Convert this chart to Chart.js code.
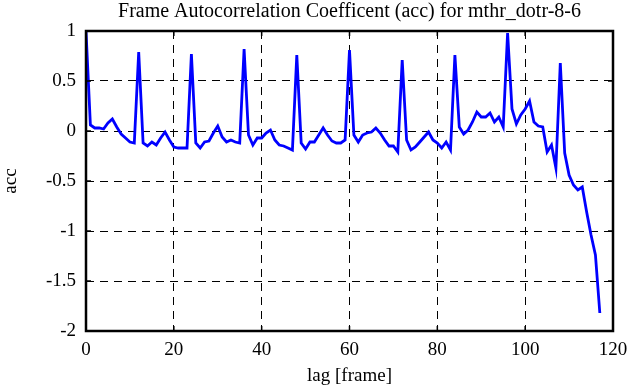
<!DOCTYPE html>
<html>
<head>
<meta charset="utf-8">
<script src="https://cdn.jsdelivr.net/npm/chart.js@4.4.1/dist/chart.umd.min.js"></script>
<style>
  html, body { margin: 0; padding: 0; background: #fff; }
  #wrap { width: 641px; height: 387px; }
</style>
</head>
<body>
<div id="wrap"><canvas id="chart" width="641" height="387"></canvas></div>
<script>
// acc values per lag (lag = index, 0..117)
const acc = [
  1.00, 0.06, 0.03, 0.03, 0.02, 0.08, 0.12, 0.04, -0.03, -0.07,
  -0.11, -0.12, 0.79, -0.12, -0.15, -0.11, -0.14, -0.07, -0.01, -0.09,
  -0.16, -0.17, -0.17, -0.17, 0.77, -0.12, -0.17, -0.11, -0.10, -0.02,
  0.05, -0.06, -0.11, -0.09, -0.11, -0.12, 0.82, -0.04, -0.14, -0.07,
  -0.07, -0.02, 0.01, -0.09, -0.14, -0.15, -0.17, -0.19, 0.76, -0.12,
  -0.18, -0.11, -0.11, -0.04, 0.03, -0.04, -0.10, -0.12, -0.12, -0.09,
  0.81, -0.04, -0.11, -0.04, -0.02, -0.01, 0.03, -0.02, -0.09, -0.15,
  -0.15, -0.21, 0.71, -0.09, -0.19, -0.16, -0.11, -0.06, -0.01, -0.09,
  -0.12, -0.17, -0.11, -0.19, 0.76, 0.04, -0.03, 0.01, 0.09, 0.19,
  0.14, 0.14, 0.18, 0.09, 0.14, 0.04, 0.98, 0.22, 0.07, 0.16,
  0.22, 0.30, 0.09, 0.05, 0.04, -0.21, -0.14, -0.37, 0.68, -0.22,
  -0.44, -0.54, -0.59, -0.56, -0.81, -1.04, -1.24, -1.82
];
const xTicks = [0, 20, 40, 60, 80, 100, 120];
const yTicks = [-2, -1.5, -1, -0.5, 0, 0.5, 1];
const titleText = 'Frame Autocorrelation Coefficent (acc) for mthr_dotr-8-6';

const serif = '"Liberation Serif", "DejaVu Serif", serif';

const points = acc.map((v, i) => ({ x: i, y: v }));

// frame, inward tick marks and a title centred over the plot box
const framePlugin = {
  id: 'frame',
  afterDraw(chart) {
    const { ctx, chartArea: a, scales } = chart;
    ctx.save();
    ctx.strokeStyle = '#000';
    ctx.lineWidth = 1.5;
    ctx.beginPath();
    xTicks.forEach(t => {
      const px = scales.x.getPixelForValue(t);
      ctx.moveTo(px, a.bottom); ctx.lineTo(px, a.bottom - 5);
      ctx.moveTo(px, a.top); ctx.lineTo(px, a.top + 5);
    });
    yTicks.forEach(t => {
      const py = scales.y.getPixelForValue(t);
      ctx.moveTo(a.left, py); ctx.lineTo(a.left + 5, py);
      ctx.moveTo(a.right, py); ctx.lineTo(a.right - 5, py);
    });
    ctx.stroke();
    ctx.lineWidth = 2.5;
    ctx.strokeRect(a.left, a.top, a.right - a.left, a.bottom - a.top);

    ctx.fillStyle = '#000';
    ctx.font = '20px ' + serif;
    ctx.textAlign = 'center';
    ctx.textBaseline = 'middle';
    ctx.fillText(titleText, (a.left + a.right) / 2, 12);
    ctx.restore();
  }
};

new Chart(document.getElementById('chart'), {
  type: 'line',
  data: {
    datasets: [{
      data: points,
      borderColor: '#0000ff',
      borderWidth: 2.8,
      pointRadius: 0,
      tension: 0,
      fill: false,
    }],
  },
  options: {
    responsive: false,
    animation: false,
    layout: { padding: { top: 31, right: 28, left: 0, bottom: 0 } },
    plugins: {
      legend: { display: false },
      tooltip: { enabled: false },
      title: { display: false },
    },
    scales: {
      x: {
        type: 'linear',
        min: 0,
        max: 120,
        afterBuildTicks(scale) { scale.ticks = xTicks.map(v => ({ value: v })); },
        afterFit(scale) { scale.height = 56; },
        ticks: {
          color: '#000',
          font: { family: serif, size: 19 },
          padding: 8,
          maxRotation: 0,
        },
        grid: {
          color: '#000',
          lineWidth: 1,
          drawTicks: false,
        },
        border: { display: false, dash: [8, 6] },
        title: {
          display: true,
          text: 'lag [frame]',
          color: '#000',
          font: { family: serif, size: 19 },
          padding: { top: 0, bottom: 0 },
        },
      },
      y: {
        min: -2,
        max: 1,
        afterBuildTicks(scale) { scale.ticks = yTicks.map(v => ({ value: v })); },
        afterFit(scale) { scale.width = 86; },
        ticks: {
          color: '#000',
          font: { family: serif, size: 19 },
          padding: 10,
          callback: v => String(v),
        },
        grid: {
          color: '#000',
          lineWidth: 1,
          drawTicks: false,
        },
        border: { display: false, dash: [8, 6] },
        title: {
          display: true,
          text: 'acc',
          color: '#000',
          font: { family: serif, size: 19 },
          padding: { top: 0, bottom: 0 },
        },
      },
    },
  },
  plugins: [framePlugin],
});
</script>
</body>
</html>
